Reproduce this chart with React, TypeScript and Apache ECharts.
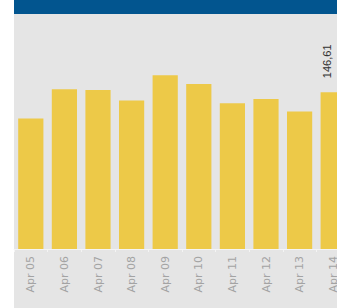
import React, { useEffect, useRef } from "react";
import * as echarts from "echarts";

const categories = ["Apr 05", "Apr 06", "Apr 07", "Apr 08", "Apr 09", "Apr 10", "Apr 11", "Apr 12", "Apr 13", "Apr 14"];
const values = [122.0, 149.4, 148.5, 138.9, 162.5, 154.1, 136.3, 140.1, 128.6, 146.61];
const labelledIndex = 9;

export default function App() {
  const ref = useRef<HTMLDivElement>(null);
  useEffect(() => {
    if (!ref.current) return;
    const chart = echarts.init(ref.current, undefined, { renderer: "svg" });
    chart.setOption({
      animation: false,
      backgroundColor: "#ffffff",
      graphic: [
        { type: "rect", z: -10, shape: { x: 14, y: 14, width: 340, height: 294 }, style: { fill: "#e5e5e5" } },
        { type: "rect", z: -10, shape: { x: 14, y: 0, width: 340, height: 14 }, style: { fill: "#02558f" } },
      ],
      grid: { left: 14, top: 35, right: 0, height: 214, containLabel: false },
      xAxis: {
        type: "category",
        data: categories,
        axisLine: { show: true, lineStyle: { color: "#f4f4f4", width: 1 } },
        axisTick: { show: true, length: 3, lineStyle: { color: "#f4f4f4" } },
        axisLabel: {
          rotate: 90,
          interval: 0,
          margin: 7,
          color: "#a3a3a3",
          fontSize: 11,
          fontFamily: "DejaVu Sans, sans-serif",
        },
      },
      yAxis: { type: "value", min: 0, max: 200, show: false, splitLine: { show: false } },
      series: [
        {
          type: "bar",
          barCategoryGap: "25%",
          itemStyle: { color: "#edc948" },
          data: values.map((v, i) =>
            i === labelledIndex
              ? {
                  value: v,
                  label: {
                    show: true,
                    position: "top",
                    rotate: 90,
                    align: "left",
                    verticalAlign: "middle",
                    distance: 14,
                    offset: [0, -6],
                    color: "#333333",
                    fontSize: 11,
                    fontFamily: "Liberation Sans, Arial, sans-serif",
                    formatter: () => v.toFixed(2).replace(".", ","),
                  },
                }
              : v
          ),
        },
      ],
    });
    return () => chart.dispose();
  }, []);
  return (
    <div style={{ position: "fixed", left: 0, top: 0, width: 337, height: 308, overflow: "hidden" }}>
      <div ref={ref} style={{ width: 350, height: 308 }} />
    </div>
  );
}
